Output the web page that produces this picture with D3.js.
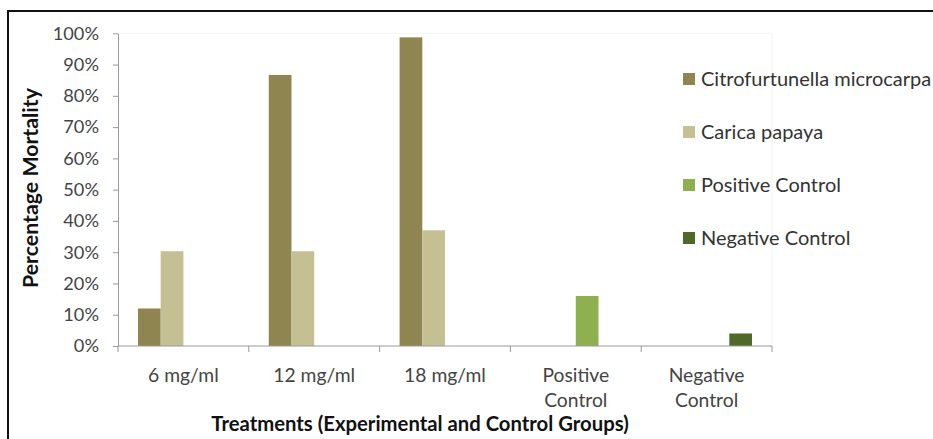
<!DOCTYPE html>
<html>
<head>
<meta charset="utf-8">
<script src="https://cdn.jsdelivr.net/npm/d3@7"></script>
<style>
    body { margin: 0; background: #fff; }
    svg { display: block; font-family: Lato, "Open Sans", sans-serif; }
</style>
</head>
<body>
<svg id="chart-svg" width="933" height="439"></svg>
<script>
// Chart data
const categories = ["6 mg/ml", "12 mg/ml", "18 mg/ml", "Positive Control", "Negative Control"];
const seriesNames = ["Citrofurtunella microcarpa", "Carica papaya", "Positive Control", "Negative Control"];
const citrofurtunella = [12, 86.7, 98.7, null, null];
const caricaPapaya = [30.3, 30.3, 37, null, null];
const positiveControl = [null, null, null, 16, null];
const negativeControl = [null, null, null, null, 4];
const yTicks = [0, 10, 20, 30, 40, 50, 60, 70, 80, 90, 100];
const colors = ["#8f8550", "#c5bf94", "#8fb04f", "#4f6a28"];

function createBarChart(width, height) {
    const size = {
        width: width,
        height: height,
        margin: { top: 33.3, right: 161, bottom: 93, left: 118 }
    };

    const svg = d3.select("#chart-svg");

    // Build rows for each category
    const seriesValues = [citrofurtunella, caricaPapaya, positiveControl, negativeControl];
    const rows = [];
    categories.forEach((c, i) => {
        seriesValues.forEach((vals, s) => {
            if (vals[i] != null) rows.push({ category: c, series: seriesNames[s], value: vals[i], idx: s });
        });
    });

    // Outer frame
    svg.append("rect")
        .attr("x", 8)
        .attr("y", 11)
        .attr("width", 1000)
        .attr("height", 1000)
        .attr("fill", "none")
        .attr("stroke", "#111")
        .attr("stroke-width", 2);

    // Scales
    const x0 = d3.scaleBand()
        .domain(categories)
        .range([size.margin.left, size.width - size.margin.right])
        .padding(0);

    const x1 = d3.scaleBand()
        .domain(seriesNames)
        .range([0, x0.bandwidth()])
        .paddingInner(0)
        .paddingOuter(0.88);

    const yScale = d3.scaleLinear()
        .domain([0, 100])
        .range([size.height - size.margin.bottom, size.margin.top]);

    const plotBottom = size.height - size.margin.bottom;

    // Faint plot area edges
    svg.append("line")
        .attr("x1", size.margin.left).attr("x2", size.width - size.margin.right)
        .attr("y1", yScale(100)).attr("y2", yScale(100))
        .attr("stroke", "#f3f3f3");
    svg.append("line")
        .attr("x1", size.width - size.margin.right).attr("x2", size.width - size.margin.right)
        .attr("y1", yScale(100)).attr("y2", plotBottom)
        .attr("stroke", "#f3f3f3");

    // Bars
    svg.append("g")
        .selectAll("rect")
        .data(rows)
        .join("rect")
        .attr("x", d => x0(d.category) + x1(d.series))
        .attr("y", d => yScale(d.value))
        .attr("width", x1.bandwidth())
        .attr("height", d => plotBottom - yScale(d.value))
        .attr("fill", d => colors[d.idx]);

    // Y axis
    const yAxis = svg.append("g")
        .attr("transform", `translate(${size.margin.left}, 0)`)
        .call(d3.axisLeft(yScale).tickValues(yTicks).tickFormat(d => d + "%").tickSize(5).tickSizeOuter(0));
    yAxis.select(".domain").attr("stroke", "#9a9a9a");
    yAxis.selectAll(".tick line").attr("stroke", "#9a9a9a");
    yAxis.selectAll(".tick text")
        .attr("x", -19)
        .attr("font-family", "Lato, sans-serif")
        .attr("font-size", 18.2)
        .attr("fill", "#444");

    // X axis with ticks between categories
    const xAxis = svg.append("g")
        .attr("transform", `translate(0, ${plotBottom})`);
    xAxis.append("line")
        .attr("x1", size.margin.left).attr("x2", size.width - size.margin.right)
        .attr("stroke", "#9a9a9a");
    const boundaries = categories.map(c => x0(c)).concat([x0.range()[1]]);
    xAxis.selectAll(".xtick")
        .data(boundaries)
        .join("line")
        .attr("class", "xtick")
        .attr("x1", d => d).attr("x2", d => d)
        .attr("y1", 0).attr("y2", 6)
        .attr("stroke", "#9a9a9a");

    // Category labels (wrapped to two lines for controls)
    xAxis.selectAll(".xlabel")
        .data(categories)
        .join("text")
        .attr("class", "xlabel")
        .attr("text-anchor", "middle")
        .attr("font-size", 19.3)
        .attr("fill", "#444")
        .each(function (d) {
            const words = d.includes("Control") ? d.split(" ") : [d];
            const t = d3.select(this);
            words.forEach((w, i) => {
                t.append("tspan")
                    .attr("x", x0(d) + x0.bandwidth() / 2)
                    .attr("y", 36 + i * 25)
                    .text(w);
            });
        });

    // X axis title
    svg.append("text")
        .attr("x", 420)
        .attr("y", 431)
        .attr("text-anchor", "middle")
        .attr("font-size", 20.3)
        .attr("font-weight", "bold")
        .attr("fill", "#111")
        .text("Treatments (Experimental and Control Groups)");

    // Y axis title
    svg.append("text")
        .attr("transform", "rotate(-90)")
        .attr("x", -188)
        .attr("y", 38)
        .attr("text-anchor", "middle")
        .attr("font-size", 21.3)
        .attr("font-weight", "bold")
        .attr("fill", "#111")
        .text("Percentage Mortality");

    // Legend
    const legend = svg.append("g")
        .selectAll("g")
        .data(seriesNames)
        .join("g")
        .attr("transform", (d, i) => `translate(683, ${79 + i * 53})`);
    legend.append("rect")
        .attr("x", 0).attr("y", -6)
        .attr("width", 12).attr("height", 12)
        .attr("fill", (d, i) => colors[i]);
    legend.append("text")
        .attr("x", 18)
        .attr("y", 7)
        .attr("font-size", 20)
        .attr("fill", "#333")
        .text(d => d);
}

createBarChart(933, 439);
</script>
</body>
</html>
